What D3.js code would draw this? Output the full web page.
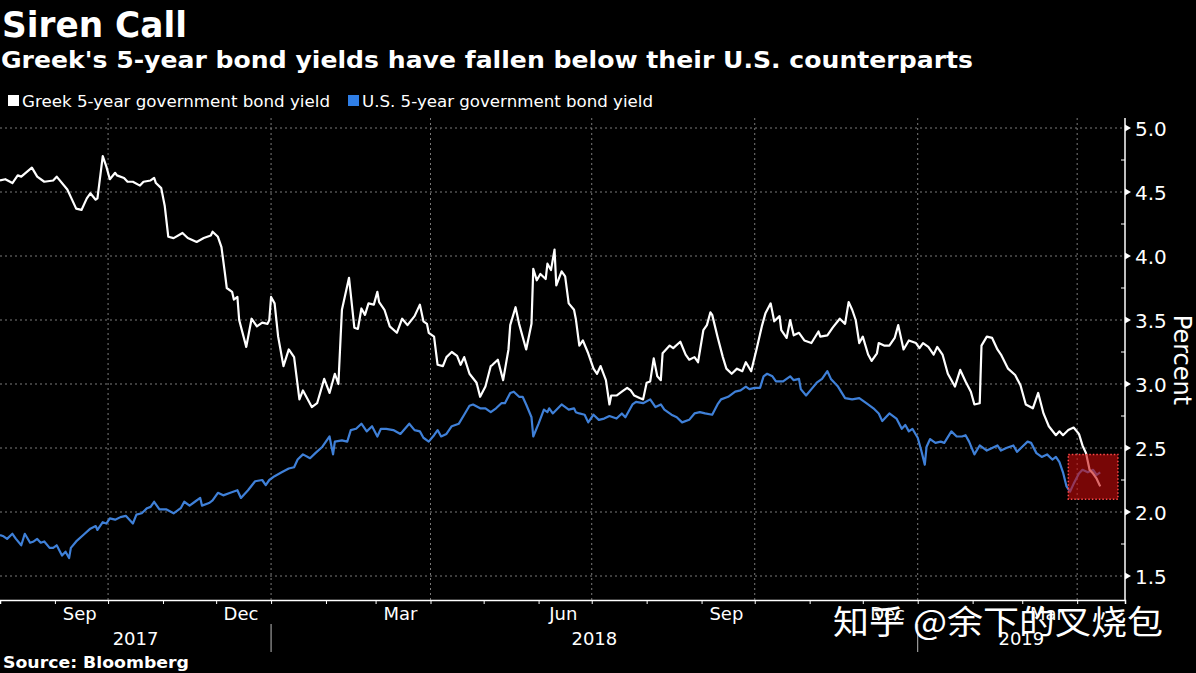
<!DOCTYPE html>
<html>
<head>
<meta charset="utf-8">
<script src="https://cdn.jsdelivr.net/npm/d3@7"></script>
<style>
  html, body { margin: 0; padding: 0; background: #000; }
  svg { display: block; }
  text { font-family: "DejaVu Sans", "Noto Sans", sans-serif; fill: #fff; }
</style>
</head>
<body>
<svg id="chart" width="1196" height="673"></svg>
<script>
// ---------------- DATA ----------------
const titleText = "Siren Call";
const subtitleText = "Greek's 5-year bond yields have fallen below their U.S. counterparts";
const seriesNames = ["Greek 5-year government bond yield", "U.S. 5-year government bond yield"];
const sourceText = "Source: Bloomberg";
const yAxisTitle = "Percent";
const watermarkText = "知乎 @余下的叉烧包";

const yTicks = [1.5, 2.0, 2.5, 3.0, 3.5, 4.0, 4.5, 5.0];
const yMinorTicks = [1.75, 2.25, 2.75, 3.25, 3.75, 4.25, 4.75];
const monthLabelDates = ["2017-09-15", "2017-12-15", "2018-03-15", "2018-06-15", "2018-09-15", "2018-12-15", "2019-03-15"];
const monthLabels = ["Sep", "Dec", "Mar", "Jun", "Sep", "Dec", "Mar"];
const monthTickDates = ["2017-09-01","2017-10-01","2017-11-01","2017-12-01","2018-01-01","2018-02-01","2018-03-01","2018-04-01","2018-05-01","2018-06-01","2018-07-01","2018-08-01","2018-09-01","2018-10-01","2018-11-01","2018-12-01","2019-01-01","2019-02-01","2019-03-01","2019-04-01"];
const quarterGridDates = ["2017-10-01","2018-01-01","2018-04-01","2018-07-01","2018-10-01","2019-01-01","2019-04-01"];
const yearLabels = ["2017", "2018", "2019"];
const yearStarts = ["2017-08-01", "2018-01-01", "2019-01-01"];
const yearEnds = ["2018-01-01", "2019-01-01", "2019-04-28"];
const xDomain = ["2017-08-01", "2019-04-28"];
const highlightDates = ["2019-03-27", "2019-04-24"];
const highlightValues = [2.45, 2.10];

const greekDates = ["2017-08-01","2017-08-04","2017-08-08","2017-08-11","2017-08-13","2017-08-19","2017-08-22","2017-08-26","2017-08-31","2017-09-02","2017-09-08","2017-09-10","2017-09-13","2017-09-16","2017-09-19","2017-09-21","2017-09-24","2017-09-25","2017-09-28","2017-09-30","2017-10-02","2017-10-05","2017-10-06","2017-10-10","2017-10-12","2017-10-15","2017-10-19","2017-10-21","2017-10-25","2017-10-27","2017-10-28","2017-10-31","2017-11-02","2017-11-04","2017-11-07","2017-11-12","2017-11-15","2017-11-20","2017-11-24","2017-11-28","2017-11-29","2017-12-02","2017-12-04","2017-12-06","2017-12-07","2017-12-10","2017-12-11","2017-12-13","2017-12-14","2017-12-18","2017-12-21","2017-12-24","2017-12-27","2017-12-30","2017-12-31","2018-01-01","2018-01-03","2018-01-05","2018-01-08","2018-01-11","2018-01-14","2018-01-17","2018-01-19","2018-01-24","2018-01-27","2018-01-31","2018-02-03","2018-02-06","2018-02-08","2018-02-10","2018-02-14","2018-02-17","2018-02-19","2018-02-21","2018-02-23","2018-02-25","2018-02-28","2018-03-02","2018-03-03","2018-03-06","2018-03-09","2018-03-13","2018-03-16","2018-03-19","2018-03-23","2018-03-26","2018-03-28","2018-03-30","2018-03-31","2018-04-03","2018-04-05","2018-04-08","2018-04-10","2018-04-13","2018-04-16","2018-04-18","2018-04-20","2018-04-23","2018-04-27","2018-04-29","2018-05-02","2018-05-05","2018-05-06","2018-05-09","2018-05-12","2018-05-15","2018-05-16","2018-05-19","2018-05-21","2018-05-25","2018-05-28","2018-05-29","2018-05-31","2018-06-02","2018-06-05","2018-06-06","2018-06-08","2018-06-10","2018-06-11","2018-06-14","2018-06-16","2018-06-18","2018-06-21","2018-06-22","2018-06-24","2018-06-26","2018-06-29","2018-07-02","2018-07-04","2018-07-06","2018-07-09","2018-07-11","2018-07-12","2018-07-15","2018-07-18","2018-07-21","2018-07-23","2018-07-25","2018-07-28","2018-07-30","2018-08-01","2018-08-03","2018-08-05","2018-08-07","2018-08-09","2018-08-10","2018-08-14","2018-08-16","2018-08-20","2018-08-23","2018-08-25","2018-08-28","2018-08-30","2018-09-02","2018-09-04","2018-09-06","2018-09-07","2018-09-10","2018-09-13","2018-09-15","2018-09-18","2018-09-21","2018-09-24","2018-09-26","2018-09-29","2018-10-02","2018-10-05","2018-10-07","2018-10-10","2018-10-12","2018-10-15","2018-10-16","2018-10-19","2018-10-21","2018-10-23","2018-10-26","2018-10-29","2018-11-02","2018-11-06","2018-11-07","2018-11-11","2018-11-14","2018-11-18","2018-11-21","2018-11-23","2018-11-25","2018-11-27","2018-11-29","2018-12-01","2018-12-04","2018-12-06","2018-12-09","2018-12-10","2018-12-13","2018-12-16","2018-12-19","2018-12-21","2018-12-24","2018-12-27","2018-12-31","2019-01-02","2019-01-04","2019-01-07","2019-01-10","2019-01-12","2019-01-15","2019-01-18","2019-01-22","2019-01-25","2019-01-28","2019-01-31","2019-02-02","2019-02-05","2019-02-06","2019-02-09","2019-02-12","2019-02-15","2019-02-17","2019-02-21","2019-02-25","2019-02-28","2019-03-03","2019-03-07","2019-03-10","2019-03-13","2019-03-16","2019-03-20","2019-03-22","2019-03-24","2019-03-27","2019-03-30","2019-04-02","2019-04-04","2019-04-06","2019-04-08","2019-04-10","2019-04-12","2019-04-14"];
const greekValues = [4.59,4.60,4.57,4.63,4.62,4.69,4.62,4.58,4.59,4.62,4.52,4.46,4.37,4.36,4.45,4.49,4.44,4.45,4.78,4.70,4.60,4.65,4.63,4.61,4.58,4.58,4.55,4.58,4.59,4.61,4.57,4.53,4.39,4.15,4.14,4.18,4.14,4.11,4.14,4.16,4.19,4.15,4.07,3.86,3.75,3.72,3.66,3.68,3.50,3.29,3.51,3.45,3.48,3.47,3.50,3.68,3.63,3.37,3.14,3.27,3.21,2.88,2.95,2.82,2.85,3.04,2.93,3.08,3.00,3.58,3.83,3.44,3.43,3.59,3.54,3.63,3.62,3.72,3.64,3.58,3.45,3.40,3.51,3.46,3.53,3.62,3.49,3.47,3.40,3.37,3.15,3.14,3.21,3.25,3.22,3.15,3.21,3.08,3.01,2.90,2.98,3.14,3.15,3.19,3.03,3.27,3.46,3.60,3.47,3.27,3.47,3.90,3.81,3.86,3.82,3.94,3.89,4.05,3.77,3.88,3.84,3.63,3.58,3.51,3.30,3.34,3.24,3.12,3.08,3.14,3.03,2.84,2.91,2.91,2.94,2.97,2.95,2.91,2.89,2.88,3.01,3.02,3.20,3.06,3.03,3.24,3.30,3.28,3.33,3.23,3.19,3.21,3.17,3.42,3.46,3.56,3.54,3.37,3.21,3.12,3.08,3.12,3.10,3.17,3.10,3.27,3.45,3.55,3.63,3.49,3.53,3.42,3.36,3.50,3.38,3.40,3.34,3.32,3.41,3.37,3.38,3.44,3.51,3.47,3.64,3.58,3.50,3.32,3.37,3.23,3.18,3.24,3.32,3.30,3.30,3.36,3.46,3.27,3.34,3.32,3.28,3.32,3.29,3.23,3.29,3.23,3.08,2.98,3.11,3.02,2.94,2.84,2.85,3.30,3.37,3.36,3.27,3.23,3.12,3.07,2.99,2.84,2.81,2.93,2.77,2.67,2.60,2.63,2.60,2.64,2.66,2.61,2.52,2.46,2.33,2.30,2.26,2.20];

const usDates = ["2017-08-01","2017-08-03","2017-08-05","2017-08-08","2017-08-10","2017-08-13","2017-08-15","2017-08-18","2017-08-20","2017-08-22","2017-08-24","2017-08-26","2017-08-29","2017-08-31","2017-09-02","2017-09-05","2017-09-07","2017-09-09","2017-09-10","2017-09-13","2017-09-17","2017-09-21","2017-09-24","2017-09-25","2017-09-28","2017-09-30","2017-10-02","2017-10-05","2017-10-08","2017-10-11","2017-10-15","2017-10-17","2017-10-20","2017-10-23","2017-10-25","2017-10-27","2017-10-30","2017-11-03","2017-11-07","2017-11-11","2017-11-13","2017-11-16","2017-11-19","2017-11-22","2017-11-23","2017-11-27","2017-11-29","2017-12-02","2017-12-05","2017-12-09","2017-12-13","2017-12-15","2017-12-19","2017-12-23","2017-12-27","2017-12-29","2017-12-31","2018-01-03","2018-01-07","2018-01-11","2018-01-14","2018-01-16","2018-01-19","2018-01-23","2018-01-26","2018-01-30","2018-02-03","2018-02-05","2018-02-06","2018-02-10","2018-02-13","2018-02-15","2018-02-18","2018-02-21","2018-02-24","2018-02-27","2018-03-02","2018-03-04","2018-03-07","2018-03-11","2018-03-15","2018-03-20","2018-03-23","2018-03-26","2018-03-28","2018-03-31","2018-04-03","2018-04-05","2018-04-07","2018-04-10","2018-04-13","2018-04-17","2018-04-20","2018-04-23","2018-04-25","2018-04-29","2018-05-02","2018-05-05","2018-05-08","2018-05-11","2018-05-13","2018-05-16","2018-05-18","2018-05-21","2018-05-23","2018-05-25","2018-05-28","2018-05-29","2018-06-01","2018-06-04","2018-06-06","2018-06-07","2018-06-09","2018-06-14","2018-06-18","2018-06-21","2018-06-22","2018-06-24","2018-06-27","2018-06-29","2018-07-02","2018-07-05","2018-07-08","2018-07-11","2018-07-15","2018-07-18","2018-07-20","2018-07-24","2018-07-26","2018-07-30","2018-08-03","2018-08-06","2018-08-09","2018-08-11","2018-08-15","2018-08-18","2018-08-21","2018-08-25","2018-08-28","2018-08-31","2018-09-03","2018-09-07","2018-09-10","2018-09-12","2018-09-16","2018-09-20","2018-09-23","2018-09-26","2018-09-28","2018-10-01","2018-10-04","2018-10-06","2018-10-08","2018-10-11","2018-10-13","2018-10-17","2018-10-21","2018-10-23","2018-10-26","2018-10-27","2018-10-30","2018-11-02","2018-11-05","2018-11-08","2018-11-11","2018-11-13","2018-11-17","2018-11-21","2018-11-25","2018-11-29","2018-12-03","2018-12-07","2018-12-10","2018-12-12","2018-12-14","2018-12-16","2018-12-20","2018-12-23","2018-12-25","2018-12-27","2018-12-29","2019-01-01","2019-01-03","2019-01-05","2019-01-06","2019-01-08","2019-01-11","2019-01-14","2019-01-16","2019-01-20","2019-01-23","2019-01-26","2019-01-28","2019-01-30","2019-02-02","2019-02-05","2019-02-09","2019-02-12","2019-02-15","2019-02-17","2019-02-20","2019-02-24","2019-02-26","2019-03-01","2019-03-04","2019-03-06","2019-03-09","2019-03-12","2019-03-15","2019-03-18","2019-03-20","2019-03-22","2019-03-24","2019-03-26","2019-03-28","2019-03-30","2019-04-02","2019-04-04","2019-04-07","2019-04-10","2019-04-12","2019-04-14"];
const usValues = [1.82,1.81,1.79,1.83,1.79,1.74,1.83,1.76,1.77,1.79,1.76,1.77,1.72,1.72,1.74,1.66,1.69,1.64,1.72,1.77,1.82,1.87,1.89,1.86,1.92,1.91,1.95,1.94,1.96,1.97,1.91,1.98,1.99,2.03,2.04,2.08,2.02,2.02,1.99,2.03,2.08,2.05,2.08,2.11,2.05,2.07,2.09,2.15,2.13,2.15,2.17,2.11,2.17,2.24,2.25,2.21,2.25,2.28,2.31,2.34,2.35,2.41,2.45,2.42,2.46,2.51,2.59,2.45,2.55,2.56,2.55,2.64,2.65,2.69,2.63,2.67,2.59,2.65,2.65,2.64,2.61,2.69,2.64,2.63,2.58,2.55,2.60,2.64,2.59,2.61,2.67,2.69,2.76,2.83,2.84,2.81,2.81,2.78,2.81,2.85,2.85,2.93,2.94,2.90,2.90,2.84,2.74,2.59,2.69,2.80,2.78,2.81,2.77,2.84,2.80,2.81,2.78,2.77,2.76,2.70,2.76,2.72,2.73,2.75,2.73,2.77,2.74,2.84,2.86,2.85,2.88,2.82,2.84,2.80,2.76,2.74,2.70,2.72,2.77,2.78,2.77,2.76,2.84,2.88,2.90,2.94,2.95,2.98,2.96,2.97,2.97,3.06,3.08,3.06,3.02,3.02,3.06,3.03,3.04,2.96,2.91,2.96,3.01,3.04,3.10,3.04,2.98,2.89,2.88,2.89,2.85,2.81,2.77,2.71,2.74,2.77,2.73,2.65,2.68,2.63,2.65,2.58,2.48,2.37,2.51,2.57,2.54,2.55,2.54,2.63,2.59,2.59,2.60,2.55,2.45,2.52,2.48,2.50,2.52,2.48,2.50,2.52,2.47,2.51,2.55,2.54,2.46,2.43,2.45,2.41,2.43,2.39,2.31,2.20,2.16,2.22,2.30,2.33,2.31,2.33,2.29,2.31];

// ---------------- LAYOUT ----------------
const W = 1196, H = 673;
const plotLeft = 0, plotRight = 1125, plotTop = 118, plotBottom = 600;
const parse = d3.utcParse("%Y-%m-%d");
const svg = d3.select("#chart");
svg.append("rect").attr("width", W).attr("height", H).attr("fill", "#000");

const x = d3.scaleUtc().domain(xDomain.map(parse)).range([plotLeft, plotRight]);
const y = d3.scaleLinear().domain([1.5, 5.0]).range([576, 128]);

// Title / subtitle
svg.append("text").attr("x", 2).attr("y", 37).text(titleText)
  .style("font-weight", "bold").style("font-size", "35px")
  .attr("textLength", 185).attr("lengthAdjust", "spacingAndGlyphs");
svg.append("text").attr("x", 1).attr("y", 68).text(subtitleText)
  .style("font-weight", "bold").style("font-size", "23px")
  .attr("textLength", 972).attr("lengthAdjust", "spacingAndGlyphs");

// Legend
const legendColors = ["#ffffff", "#2f7ee6"];
const legendX = [8, 348];
const legendW = [308, 291];
seriesNames.forEach((name, i) => {
  svg.append("rect").attr("x", legendX[i]).attr("y", 95).attr("width", 11).attr("height", 11).attr("fill", legendColors[i]);
  svg.append("text").attr("x", legendX[i] + 14).attr("y", 107).text(name)
    .style("font-size", "16px").attr("textLength", legendW[i]).attr("lengthAdjust", "spacingAndGlyphs");
});

// Gridlines
const grid = svg.append("g");
grid.selectAll("line.h").data(yTicks).join("line")
  .attr("x1", plotLeft).attr("x2", plotRight)
  .attr("y1", d => y(d)).attr("y2", d => y(d))
  .attr("stroke", "#7a7a7a").attr("stroke-width", 1).attr("stroke-dasharray", "2,3");
grid.selectAll("line.v").data(quarterGridDates.map(parse)).join("line")
  .attr("x1", d => x(d)).attr("x2", d => x(d))
  .attr("y1", plotTop).attr("y2", plotBottom)
  .attr("stroke", "#7a7a7a").attr("stroke-width", 1).attr("stroke-dasharray", "2,3");

// Lines
const line = d3.line().x(d => x(d.date)).y(d => y(d.v));
const usData = usDates.map((d, i) => ({ date: parse(d), v: usValues[i] }));
const greekData = greekDates.map((d, i) => ({ date: parse(d), v: greekValues[i] }));
svg.append("path").datum(usData).attr("d", line)
  .attr("fill", "none").attr("stroke", "#3f80d8").attr("stroke-width", 2.2).attr("stroke-linejoin", "round");
svg.append("path").datum(greekData).attr("d", line)
  .attr("fill", "none").attr("stroke", "#ffffff").attr("stroke-width", 2.2).attr("stroke-linejoin", "round");

// Highlight box
const hx0 = x(parse(highlightDates[0])), hx1 = x(parse(highlightDates[1]));
const hy0 = y(highlightValues[0]), hy1 = y(highlightValues[1]);
svg.append("rect").attr("x", hx0).attr("y", hy0).attr("width", hx1 - hx0).attr("height", hy1 - hy0)
  .attr("fill", "rgba(200,10,10,0.6)").attr("stroke", "#ff4a4a").attr("stroke-width", 1.5)
  .attr("stroke-dasharray", "1.5,2");

// Right axis
const yAxis = d3.axisRight(y).tickValues(yTicks).tickFormat(d3.format(".1f")).tickSize(0).tickPadding(10);
const yg = svg.append("g").attr("transform", `translate(${plotRight},0)`).call(yAxis);
yg.select(".domain").remove();
yg.selectAll("text").style("font-size", "20px").attr("fill", "#fff").attr("dy", "0.36em");
svg.append("line").attr("x1", plotRight).attr("x2", plotRight).attr("y1", plotTop).attr("y2", plotBottom)
  .attr("stroke", "#fff").attr("stroke-width", 1.5);
svg.append("g").selectAll("path").data(yTicks).join("path")
  .attr("d", d => `M${plotRight},${y(d) - 3.5}L${plotRight + 6},${y(d)}L${plotRight},${y(d) + 3.5}Z`)
  .attr("fill", "#fff");
svg.append("g").selectAll("line").data(yMinorTicks).join("line")
  .attr("x1", plotRight - 4).attr("x2", plotRight).attr("y1", d => y(d)).attr("y2", d => y(d))
  .attr("stroke", "#fff").attr("stroke-width", 1);
svg.append("text").attr("transform", `translate(1174,360) rotate(90)`).attr("text-anchor", "middle")
  .style("font-size", "24px").text(yAxisTitle);

// Bottom axis
const xAxis = d3.axisBottom(x).tickValues(monthTickDates.map(parse)).tickFormat("").tickSize(4);
const xg = svg.append("g").attr("transform", `translate(0,${plotBottom})`).call(xAxis);
xg.select(".domain").attr("stroke", "#fff").attr("stroke-width", 1.5);
xg.selectAll(".tick line").attr("stroke", "#fff");
svg.append("g").selectAll("text").data(monthLabelDates).join("text")
  .attr("x", d => x(parse(d))).attr("y", 620).attr("text-anchor", "middle")
  .style("font-size", "18px").text((d, i) => monthLabels[i]);
svg.append("g").selectAll("text").data(yearLabels).join("text")
  .attr("x", (d, i) => (x(parse(yearStarts[i])) + x(parse(yearEnds[i]))) / 2).attr("y", 645)
  .attr("text-anchor", "middle").style("font-size", "18px").text(d => d);
svg.append("g").selectAll("line").data(yearStarts.slice(1)).join("line")
  .attr("x1", d => x(parse(d))).attr("x2", d => x(parse(d)))
  .attr("y1", 624).attr("y2", 652).attr("stroke", "#bbb").attr("stroke-width", 1);

// Source
svg.append("text").attr("x", 3).attr("y", 668).text(sourceText)
  .style("font-weight", "bold").style("font-size", "15px")
  .attr("textLength", 186).attr("lengthAdjust", "spacingAndGlyphs");

// Watermark (overlaps the axis labels exactly as in the reference)
svg.append("text").attr("x", 833).attr("y", 634).text(watermarkText)
  .style("font-family", "'Noto Sans CJK SC', sans-serif").style("font-size", "33px")
  .attr("fill", "#fff").attr("textLength", 330).attr("lengthAdjust", "spacingAndGlyphs");
</script>
</body>
</html>
